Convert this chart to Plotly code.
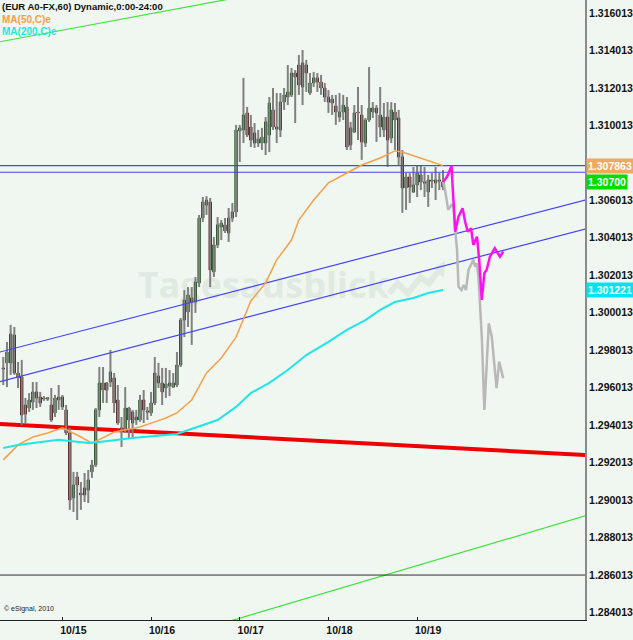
import pandas as pd
import plotly.graph_objects as go

# ---------------- data (hourly EUR/USD candles) ----------------
opens = [1.29706, 1.29733, 1.29733, 1.29882, 1.29679, 1.29658, 1.29508, 1.29492, 1.29524, 1.29578,
         1.29551, 1.29546, 1.29540, 1.29508, 1.29466, 1.29535, 1.29551, 1.29482, 1.29359, 1.29012,
         1.29124, 1.29038, 1.29065, 1.29054, 1.29151, 1.29188, 1.29482, 1.29626, 1.29588, 1.29631,
         1.29653, 1.29535, 1.29386, 1.29375, 1.29492, 1.29412, 1.29444, 1.29428, 1.29535, 1.29476,
         1.29466, 1.29519, 1.29663, 1.29626, 1.29599, 1.29610, 1.29604, 1.29615, 1.29722, 1.29962,
         1.30005, 1.30080, 1.30058, 1.30160, 1.30507, 1.30576, 1.30592, 1.30219, 1.30363, 1.30459,
         1.30470, 1.30427, 1.30507, 1.30539, 1.30972, 1.30977, 1.31068, 1.30993, 1.30961, 1.30907,
         1.30907, 1.30907, 1.30950, 1.31084, 1.30993, 1.30977, 1.31126, 1.31153, 1.31164, 1.31281,
         1.31324, 1.31206, 1.31324, 1.31174, 1.31228, 1.31255, 1.31233, 1.31201, 1.31153, 1.31142,
         1.31105, 1.31046, 1.31073, 1.31100, 1.30897, 1.30966, 1.31073, 1.31057, 1.30907, 1.31030,
         1.31073, 1.31094, 1.31057, 1.30977, 1.31046, 1.30934, 1.31073, 1.31041, 1.30833, 1.30667,
         1.30726, 1.30646, 1.30683, 1.30737, 1.30699, 1.30646, 1.30710, 1.30694, 1.30710, 1.30672]
highs = [1.29765, 1.29845, 1.29936, 1.29925, 1.29738, 1.29749, 1.29546, 1.29572, 1.29631, 1.29631,
         1.29578, 1.29556, 1.29551, 1.29599, 1.29562, 1.29615, 1.29562, 1.29508, 1.29386, 1.29151,
         1.29151, 1.29097, 1.29145, 1.29161, 1.29215, 1.29492, 1.29711, 1.29711, 1.29631, 1.29802,
         1.29679, 1.29615, 1.29444, 1.29604, 1.29498, 1.29482, 1.29482, 1.29562, 1.29588, 1.29498,
         1.29578, 1.29765, 1.29733, 1.29706, 1.29706, 1.29695, 1.29679, 1.29791, 1.29973, 1.30122,
         1.30138, 1.30138, 1.30192, 1.30523, 1.30619, 1.30624, 1.30614, 1.30405, 1.30512, 1.30496,
         1.30507, 1.30560, 1.30587, 1.31004, 1.31004, 1.31255, 1.31100, 1.31057, 1.31014, 1.30977,
         1.30988, 1.31046, 1.31153, 1.31201, 1.31174, 1.31174, 1.31201, 1.31324, 1.31308, 1.31297,
         1.31377, 1.31404, 1.31351, 1.31281, 1.31287, 1.31281, 1.31271, 1.31228, 1.31190, 1.31164,
         1.31164, 1.31174, 1.31164, 1.31153, 1.31020, 1.31110, 1.31206, 1.31110, 1.31041, 1.31313,
         1.31126, 1.31110, 1.31206, 1.31121, 1.31126, 1.31126, 1.31121, 1.31084, 1.30870, 1.30747,
         1.30747, 1.30779, 1.30790, 1.30790, 1.30779, 1.30737, 1.30747, 1.30779, 1.30747, 1.30763]
lows = [1.29615, 1.29604, 1.29669, 1.29669, 1.29599, 1.29402, 1.29412, 1.29471, 1.29482, 1.29492,
        1.29498, 1.29530, 1.29530, 1.29418, 1.29444, 1.29482, 1.29482, 1.29348, 1.28948, 1.28937,
        1.28894, 1.28948, 1.28990, 1.28985, 1.29119, 1.29177, 1.29444, 1.29519, 1.29519, 1.29604,
        1.29466, 1.29402, 1.29284, 1.29359, 1.29332, 1.29337, 1.29402, 1.29418, 1.29412, 1.29428,
        1.29450, 1.29508, 1.29599, 1.29508, 1.29546, 1.29556, 1.29599, 1.29604, 1.29711, 1.29871,
        1.29925, 1.29829, 1.30000, 1.30138, 1.30486, 1.30523, 1.30138, 1.30192, 1.30347, 1.30389,
        1.30427, 1.30379, 1.30486, 1.30512, 1.30806, 1.30907, 1.30939, 1.30886, 1.30881, 1.30886,
        1.30870, 1.30843, 1.30859, 1.30977, 1.30907, 1.30939, 1.31084, 1.31110, 1.31153, 1.31014,
        1.31164, 1.31110, 1.31180, 1.31164, 1.31206, 1.31180, 1.31164, 1.31126, 1.31068, 1.31057,
        1.31004, 1.31020, 1.31030, 1.30870, 1.30870, 1.30961, 1.30923, 1.30817, 1.30886, 1.31020,
        1.31041, 1.30913, 1.30939, 1.30939, 1.30779, 1.30907, 1.30870, 1.30790, 1.30534, 1.30550,
        1.30587, 1.30640, 1.30619, 1.30656, 1.30619, 1.30566, 1.30667, 1.30603, 1.30656, 1.30656]
closes = [1.29701, 1.29791, 1.29887, 1.29679, 1.29653, 1.29455, 1.29460, 1.29535, 1.29578, 1.29546,
          1.29519, 1.29540, 1.29546, 1.29428, 1.29546, 1.29551, 1.29498, 1.29359, 1.29001, 1.29081,
          1.29081, 1.29028, 1.29028, 1.29108, 1.29188, 1.29482, 1.29626, 1.29588, 1.29626, 1.29685,
          1.29519, 1.29412, 1.29370, 1.29492, 1.29428, 1.29471, 1.29428, 1.29535, 1.29482, 1.29471,
          1.29519, 1.29679, 1.29626, 1.29578, 1.29620, 1.29626, 1.29626, 1.29722, 1.29962, 1.30069,
          1.30096, 1.30058, 1.30165, 1.30507, 1.30592, 1.30603, 1.30229, 1.30363, 1.30470, 1.30480,
          1.30438, 1.30507, 1.30539, 1.30977, 1.30988, 1.31057, 1.30950, 1.30923, 1.30907, 1.30929,
          1.30939, 1.31020, 1.31121, 1.30993, 1.30982, 1.31126, 1.31164, 1.31180, 1.31281, 1.31260,
          1.31217, 1.31335, 1.31281, 1.31228, 1.31255, 1.31233, 1.31201, 1.31153, 1.31126, 1.31121,
          1.31073, 1.31073, 1.31110, 1.30886, 1.30988, 1.31068, 1.31068, 1.30913, 1.31030, 1.31094,
          1.31094, 1.31068, 1.30993, 1.31046, 1.30923, 1.31084, 1.31030, 1.30833, 1.30667, 1.30726,
          1.30672, 1.30683, 1.30747, 1.30699, 1.30694, 1.30710, 1.30704, 1.30710, 1.30704, 1.30700]

# moving averages (hours after first candle, value)
ma50_hours = [0, 4, 8, 12, 16, 20, 24, 26, 30, 37, 41, 44, 47, 51, 55, 59, 63, 65, 67, 71,
              74, 78, 80, 84, 88, 93, 97, 102, 106, 108, 112, 119]
ma50_vals = [1.29215, 1.29295, 1.29337, 1.29359, 1.29386, 1.29348, 1.29305, 1.29323, 1.29364, 1.29391,
             1.29418, 1.29439, 1.29466, 1.29535, 1.29679, 1.29759, 1.29871, 1.29973, 1.30064, 1.30160,
             1.30283, 1.30389, 1.30496, 1.30603, 1.30694, 1.30747, 1.30790, 1.30827, 1.30865, 1.30859,
             1.30833, 1.307863]
ma200_hours = [0, 4, 15, 23, 26, 35, 47, 53, 58, 63, 67, 72, 77, 82, 88, 93, 98, 102, 106, 111, 115, 119]
ma200_vals = [1.29279, 1.29295, 1.29323, 1.29305, 1.29311, 1.29332, 1.29353, 1.29396, 1.29428, 1.29498,
              1.29572, 1.29626, 1.29695, 1.29775, 1.29845, 1.29909, 1.29962, 1.30016, 1.30058, 1.30080,
              1.30106, 1.301221]

# forecast paths
fc_pink_hours = [119, 120.1, 121.3, 121.9, 122.3, 123.2, 124.3, 125.0, 125.7, 126.6, 127.2, 128.2,
                 128.8, 129.5, 130.2, 130.8, 131.7, 133.0, 134.4, 135.3]
fc_pink_vals = [1.30700, 1.30727, 1.30785, 1.30587, 1.30434, 1.30514, 1.30559, 1.30487, 1.30434, 1.30452,
                1.30363, 1.30407, 1.30283, 1.30069, 1.30212, 1.30229, 1.30300, 1.30345, 1.30300, 1.30327]
fc_gray_hours = [119, 119.2, 119.7, 120.4, 121.3, 121.9, 122.3, 122.8, 123.2, 124.0, 124.6, 125.2, 125.9,
                 126.6, 127.2, 127.7, 128.2, 128.6, 129.0, 129.5, 130.2, 130.8, 131.4, 132.2, 132.9,
                 133.5, 134.2, 135.3]
fc_gray_vals = [1.30700, 1.30692, 1.30639, 1.30550, 1.30576, 1.30567, 1.30443, 1.30336, 1.30140, 1.30122,
                1.30149, 1.30122, 1.30229, 1.30256, 1.30283, 1.30247, 1.30265, 1.30193, 1.30033, 1.29873,
                1.29482, 1.29731, 1.29945, 1.29873, 1.29731, 1.29598, 1.29740, 1.29651]

# drawn lines: (hour, price) end points
upper_channel = ([-0.9, 157.5], [1.29791, 1.30603])
lower_channel = ([-0.9, 157.5], [1.29633, 1.30448])
red_support = ([-0.9, 157.5], [1.29407, 1.29241])
green_top = ([-0.9, 79.5], [1.31448, 1.31743])
green_bottom = ([52.7, 157.5], [1.28304, 1.28916])
blue_levels = [1.30787, 1.30751]
black_level = 1.28600

y_ticks = [1.284013, 1.286013, 1.288013, 1.290013, 1.292013, 1.294013, 1.296013, 1.298013,
           1.300013, 1.302013, 1.304013, 1.306013, 1.308013, 1.310013, 1.312013, 1.314013, 1.316013]
y_tick_hide = [1.308013]  # hidden behind the price boxes
x_tick_days = ["2010-10-15", "2010-10-16", "2010-10-17", "2010-10-18", "2010-10-19"]
x_tick_text = ["10/15", "10/16", "10/17", "10/18", "10/19"]
last_ma50 = 1.307863
last_close = 1.30700
last_ma200 = 1.301221

BASE = pd.Timestamp("2010-10-14 08:00")


def t(h):
    return BASE + pd.to_timedelta(h, unit="h")


candle_t = [t(i) for i in range(len(opens))]

BG = "#f0f7f0"
FONT = "Liberation Sans, Arial, sans-serif"

fig = go.Figure()


def line(hours, vals, color, width, dash=None):
    fig.add_trace(go.Scatter(x=[t(h) for h in hours], y=vals, mode="lines",
                             line=dict(color=color, width=width, dash=dash),
                             hoverinfo="skip", showlegend=False))


# background trend lines
line(green_top[0], green_top[1], "#3ee23e", 1.2)
line(green_bottom[0], green_bottom[1], "#3ee23e", 1.2)
line([-0.9, 157.5], [black_level, black_level], "#303030", 1)
line(red_support[0], red_support[1], "#ee0000", 4)

# wicks
wx, wy = [], []
for ti, h, l in zip(candle_t, highs, lows):
    wx += [ti, ti, None]
    wy += [l, h, None]
fig.add_trace(go.Scatter(x=wx, y=wy, mode="lines", line=dict(color="#808080", width=2),
                         hoverinfo="skip", showlegend=False))

# bodies
body_hi = [max(o, c) for o, c in zip(opens, closes)]
body_lo = [min(o, c) for o, c in zip(opens, closes)]
fig.add_trace(go.Candlestick(
    x=candle_t, open=opens, high=body_hi, low=body_lo, close=closes,
    increasing=dict(fillcolor="#1f9a1f", line=dict(color="#0c380c", width=1)),
    decreasing=dict(fillcolor="#8e0c0c", line=dict(color="#3a0000", width=1)),
    whiskerwidth=0, showlegend=False, hoverinfo="skip"))

# channel / level lines
line(upper_channel[0], upper_channel[1], "#4545f5", 1.2)
line(lower_channel[0], lower_channel[1], "#4545f5", 1.2)
for lv in blue_levels:
    line([-0.9, 157.5], [lv, lv], "#4545f5", 1.2)

# moving averages
line(ma50_hours, ma50_vals, "#f5a04a", 1.5)
line(ma200_hours, ma200_vals, "#1ee6e6", 2)

# forecasts
line(fc_gray_hours, fc_gray_vals, "#b8b8b8", 2.5)
line(fc_pink_hours, fc_pink_vals, "#ff10f0", 2.5)

# watermark (below traces)
fig.add_shape(type="rect", xref="paper", yref="paper", x0=0.20, x1=0.70, y0=0.50, y1=0.575,
              line=dict(width=0), fillcolor="rgba(0,0,0,0)", layer="below",
              label=dict(text="Tagesausblick", textposition="middle center",
                         font=dict(size=36, color="#e0eae0", family="Open Sans, Liberation Sans",
                                   weight="bold")))
fig.add_shape(type="path", xref="paper", yref="paper", layer="below",
              path="M 0.665 0.527 L 0.680 0.543 L 0.697 0.527 L 0.719 0.553 L 0.733 0.543 L 0.753 0.566",
              line=dict(color="#e0eae0", width=6))
fig.add_shape(type="path", xref="paper", yref="paper", layer="below",
              path="M 0.743 0.568 L 0.760 0.578 L 0.758 0.553 Z",
              line=dict(color="#e0eae0", width=1), fillcolor="#e0eae0")

ann = []
ann.append(dict(xref="paper", yref="paper", x=0, y=1, xanchor="left", yanchor="top", xshift=0, yshift=1,
                text="<b>(EUR A0-FX,60) Dynamic,0:00-24:00</b>", showarrow=False,
                font=dict(family=FONT, size=9.5, color="#111111")))
ann.append(dict(xref="paper", yref="paper", x=0, y=1, xanchor="left", yanchor="top", xshift=0, yshift=-12,
                text="<b>MA(50,C)e</b>", showarrow=False,
                font=dict(family=FONT, size=10, color="#f5a04a")))
ann.append(dict(xref="paper", yref="paper", x=0, y=1, xanchor="left", yanchor="top", xshift=0, yshift=-24,
                text="<b>MA(200,C)e</b>", showarrow=False,
                font=dict(family=FONT, size=10, color="#1ee6e6")))
ann.append(dict(xref="paper", yref="paper", x=0, y=0, xanchor="left", yanchor="bottom", xshift=2, yshift=5,
                text="© eSignal, 2010", showarrow=False,
                font=dict(family=FONT, size=7, color="#222222")))
for val, txt, bg in [(last_ma50, "1.307863", "#f2a85e"), (last_close, "1.30700", "#00dc00"),
                     (last_ma200, "1.301221", "#00e4f2")]:
    ann.append(dict(xref="paper", yref="y", x=1, y=val, xanchor="left", yanchor="middle", xshift=1,
                    text="<b>%s</b>" % txt, showarrow=False, bgcolor=bg, borderpad=1,
                    font=dict(family=FONT, size=10.5, color="white")))

tickvals = [v for v in y_ticks if v not in y_tick_hide]
fig.update_layout(
    width=633, height=640,
    margin=dict(l=0, r=42, t=0, b=20),
    paper_bgcolor=BG, plot_bgcolor=BG,
    showlegend=False,
    boxgap=0.15,
    annotations=ann,
    xaxis=dict(type="date", range=[t(-0.884), t(157.43)], rangeslider=dict(visible=False),
               showgrid=False, zeroline=False, showline=True, linecolor="#222222", linewidth=1,
               tickvals=x_tick_days, ticktext=x_tick_text,
               ticks="inside", ticklen=3, tickcolor="#222222", ticklabelshift=11,
               tickfont=dict(family=FONT, size=10.5, color="#111111", weight="bold"), fixedrange=True),
    yaxis=dict(side="right", range=[1.28360, 1.31671], showgrid=False, zeroline=False,
               showline=True, linecolor="#8a8a8a", linewidth=2,
               tickvals=tickvals, ticktext=["%.6f" % v for v in tickvals], ticks="",
               tickfont=dict(family=FONT, size=10.5, color="#111111", weight="bold"), fixedrange=True),
)

fig.write_html("out.html", config={"displayModeBar": False},
               post_script="document.body.style.margin='0';document.body.style.overflow='hidden';")
